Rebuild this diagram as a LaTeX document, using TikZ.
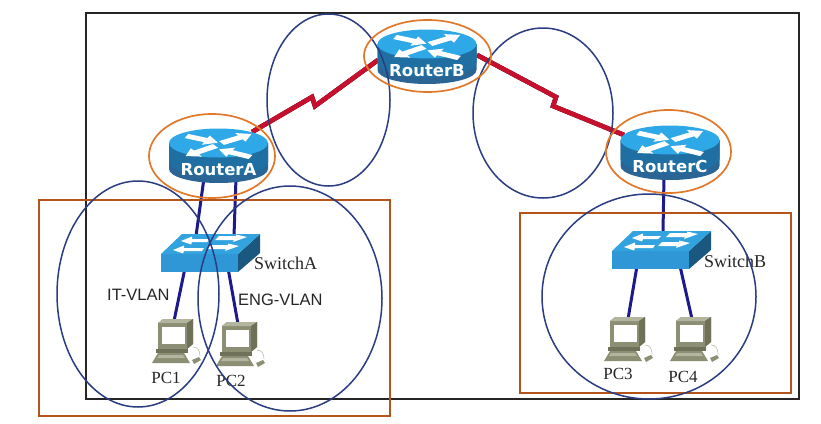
\documentclass[tikz,border=0pt]{standalone}
\usepackage{fontspec}
\setmainfont{Liberation Serif}
\setsansfont{Liberation Sans}
\newfontfamily\routerfont{DejaVu Sans}
\usetikzlibrary{calc}
\definecolor{rtop}{HTML}{2FA8E8}
\definecolor{rside}{HTML}{1F6FA3}
\definecolor{rshade}{HTML}{2A6596}
\definecolor{swtop}{HTML}{33A3E0}
\definecolor{swfront}{HTML}{2F97D6}
\definecolor{swside}{HTML}{1B587F}
\definecolor{navyring}{HTML}{2A3C82}
\definecolor{orangering}{HTML}{E2782A}
\definecolor{brownbox}{HTML}{B5541A}
\definecolor{lan}{HTML}{1E1A8C}
\definecolor{wan}{HTML}{C8102E}
\definecolor{pcbody}{HTML}{8D8F74}
\definecolor{pcdark}{HTML}{6F7159}
\definecolor{pclight}{HTML}{B4B59E}
\newcommand{\rarrow}[4]{%
  \begin{scope}[shift={(#1,#2)},yscale=.5,rotate=#3]
    \fill[arrowpart] (0,-4.5) -- (#4-13,-4.5) -- (#4-13,-10) -- (#4,0) -- (#4-13,10) -- (#4-13,4.5) -- (0,4.5) -- cycle;
  \end{scope}}
\tikzset{
  x=1pt,y=-1pt,
  ring/.style={draw=navyring,line width=1.5pt},
  routerring/.style={draw=orangering,line width=1.7pt},
  areabox/.style={draw=brownbox,line width=1.7pt},
  lanlink/.style={draw=lan,line width=3pt},
  wanshadow/.style={draw=black,line width=4.6pt,line join=miter},
  wanlink/.style={draw=wan,line width=4.6pt,line join=miter},
  routerlabel/.style={text=white,font=\routerfont\bfseries\fontsize{16.5}{18}\selectfont,inner sep=0pt},
  devlabel/.style={text=black!85,font=\rmfamily\fontsize{18}{20}\selectfont,inner sep=0pt},
  pclabel/.style={text=black!85,font=\rmfamily\fontsize{17}{19}\selectfont,inner sep=0pt},
  vlanlabel/.style={text=black!85,font=\sffamily\fontsize{16.5}{19}\selectfont,inner sep=0pt},
  arrowpart/.style={fill=white,draw=none},
  pics/routerdev/.style={code={
    \fill[rshade] (-49.5,0) -- (-49.5,26) arc[start angle=180,end angle=0,x radius=49.5,y radius=14] -- (49.5,0) -- cycle;
    \fill[rside] (-49.5,0) -- (-49.5,19) arc[start angle=180,end angle=0,x radius=49.5,y radius=14] -- (49.5,0) -- cycle;
    \fill[rtop] (0,0) ellipse[x radius=49.5,y radius=14.5];
    \rarrow{-32}{-7}{-23}{34}
    \rarrow{3}{0}{31}{35}
    \rarrow{-3}{3}{214}{36}
    \rarrow{32}{14}{154}{35}
  }},
  pics/switchdev/.style={code={
    \fill[swfront] (0,20) -- (77,20) -- (77,38) -- (0,38) -- cycle;
    \fill[swside] (77,20) -- (99,0) -- (99,19) -- (77,38) -- cycle;
    \fill[swtop] (0,20) -- (21,0) -- (99,0) -- (77,20) -- cycle;
    \fill[arrowpart] (12,16) -- (23,11.5) -- (23,14) -- (43,14) -- (41,17) -- (23,17) -- (22,19.5) -- cycle;
    \fill[arrowpart] (20,7) -- (31,2.5) -- (31,5) -- (49,5) -- (46,8) -- (31,8) -- (30,10.5) -- cycle;
    \fill[arrowpart] (86,3) -- (75,0.5) -- (75,2) -- (58,2) -- (54,6) -- (73,6) -- (72,8) -- cycle;
    \fill[arrowpart] (78,12) -- (67,9.5) -- (67,11) -- (50,11) -- (46,15) -- (65,15) -- (64,17) -- cycle;
  }},
  pics/pcdev/.style={code={
    \fill[pcbody] (5,4) -- (10,0) -- (40,0) -- (40,25) -- (34,30) -- (5,30) -- cycle;
    \fill[pclight] (5,4) -- (10,0) -- (40,0) -- (34,4) -- cycle;
    \fill[pcdark] (34,4) -- (40,0) -- (40,25) -- (34,30) -- cycle;
    \fill[white] (9,8) rectangle (32,25);
    \fill[pcdark] (3,34) -- (35,34) -- (35,30) -- (3,30) -- cycle;
    \fill[pcbody] (5,34) -- (31,34) -- (37,44) -- (-1,44) -- cycle;
    \fill[pclight] (6,36) -- (30,36) -- (32,39) -- (4,39) -- cycle;
    \fill[pcbody] (39,41) -- (46,38) -- (48,41) -- (41,45) -- cycle;
    \draw[pclight,line width=.5pt] (40,28) .. controls (45,28) and (47,32) .. (47,37);
  }},
}
\begin{document}
\begin{tikzpicture}
\useasboundingbox (0,0) rectangle (821,423);
\fill[white] (0,0) rectangle (821,423);
% frame
\node[draw=black!85,line width=1.5pt,inner sep=0pt,minimum width=713pt,minimum height=386pt] (frame) at (442.5,206) {};

% connector end points
\coordinate (aSerial) at (252,132);
\coordinate (abKneeA) at (312,97);
\coordinate (abKneeB) at (315,106);
\coordinate (bSerialL) at (378,60);
\coordinate (bSerialR) at (477,55);
\coordinate (bcKneeA) at (556,97);
\coordinate (bcKneeB) at (553,106);
\coordinate (cSerial) at (624,135);
\coordinate (aPortL) at (204,178);
\coordinate (aPortR) at (236,178);
\coordinate (swaPortL) at (196,236);
\coordinate (swaPortR) at (234,236);
\coordinate (swaDownL) at (185,268);
\coordinate (swaDownR) at (228,268);
\coordinate (pcOneTop) at (174,321);
\coordinate (pcTwoTop) at (238,324);
\coordinate (cPort) at (664,176);
\coordinate (swbPort) at (663,232);
\coordinate (swbDownL) at (637,266);
\coordinate (swbDownR) at (680,266);
\coordinate (pcThreeTop) at (628,319);
\coordinate (pcFourTop) at (692,319);

% serial links
\draw[wanshadow,shift={(-1,1.5)}] (aSerial) -- (abKneeA) -- (abKneeB) -- (bSerialL);
\draw[wanlink] (aSerial) -- (abKneeA) -- (abKneeB) -- (bSerialL);
\draw[wanshadow,shift={(-1,1.5)}] (bSerialR) -- (bcKneeA) -- (bcKneeB) -- (cSerial);
\draw[wanlink] (bSerialR) -- (bcKneeA) -- (bcKneeB) -- (cSerial);

% LAN links
\draw[lanlink] (aPortL) -- (swaPortL);
\draw[lanlink] (aPortR) -- (swaPortR);
\draw[lanlink] (swaDownL) -- (pcOneTop);
\draw[lanlink] (swaDownR) -- (pcTwoTop);
\draw[lanlink] (cPort) -- (swbPort);
\draw[lanlink] (swbDownL) -- (pcThreeTop);
\draw[lanlink] (swbDownR) -- (pcFourTop);

% devices
\pic at (218.5,143) {routerdev};
\pic at (427,44) {routerdev};
\pic at (670,140) {routerdev};
\node[routerlabel] (routerA) at (218.5,170) {RouterA};
\node[routerlabel] (routerB) at (427,71) {RouterB};
\node[routerlabel] (routerC) at (670,166) {RouterC};
\pic at (161,234) {switchdev};
\pic at (612,231) {switchdev};
\pic at (153,319) {pcdev};
\pic at (217,322) {pcdev};
\pic at (605,317) {pcdev};
\pic at (671,317) {pcdev};

% labels
\node[devlabel,anchor=west] (swA) at (254,263) {SwitchA};
\node[devlabel,anchor=west] (swB) at (704,261) {SwitchB};
\node[vlanlabel,anchor=west] (itv) at (107,295) {IT-VLAN};
\node[vlanlabel,anchor=west] (engv) at (238,300) {ENG-VLAN};
\node[pclabel] (pc1) at (166,378) {PC1};
\node[pclabel] (pc2) at (231,381) {PC2};
\node[pclabel] (pc3) at (618,374) {PC3};
\node[pclabel] (pc4) at (683,377) {PC4};

% areas
\node[areabox,inner sep=0pt,minimum width=351pt,minimum height=216pt] (areaL) at (214.5,308) {};
\node[areabox,inner sep=0pt,minimum width=271pt,minimum height=180pt] (areaR) at (655.5,303) {};

% rings
\draw[ring] (138,294) ellipse[x radius=81,y radius=113];
\draw[ring] (290,298.5) ellipse[x radius=92,y radius=112.5];
\draw[ring] (328.5,100) ellipse[x radius=61.5,y radius=86];
\draw[ring] (543,113) ellipse[x radius=70,y radius=85];
\draw[ring] (649,296.5) ellipse[x radius=107,y radius=102.5];
\draw[routerring] (212,156) ellipse[x radius=63,y radius=42];
\draw[routerring] (427.5,56) ellipse[x radius=63.5,y radius=36];
\draw[routerring] (668.5,151.5) ellipse[x radius=62.5,y radius=41.5];
\end{tikzpicture}
\end{document}
